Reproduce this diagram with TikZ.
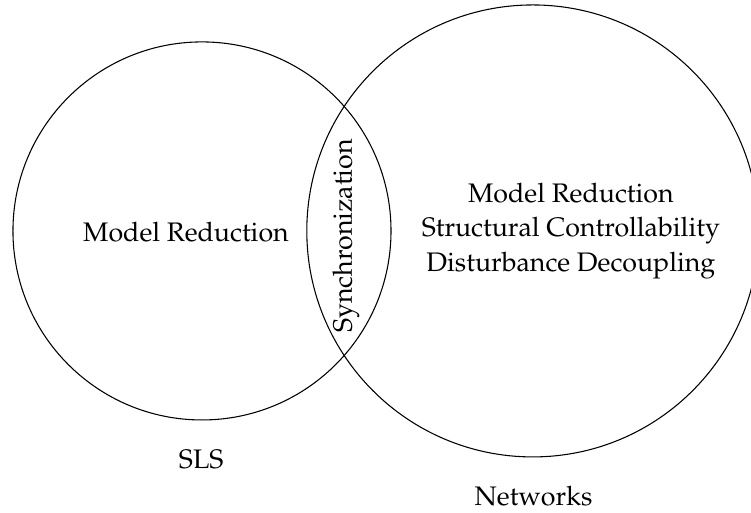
\documentclass[tikz,border=0pt]{standalone}
\usepackage[T1]{fontenc}
\usepackage{mathpazo}
\usepackage{tikz}

\begin{document}
\begin{tikzpicture}
        \useasboundingbox (0,0) rectangle (9.853,6.730);
        \clip (0,0) rectangle (9.853,6.730);
        \draw[black] (2.65,3.70) circle (2.48);
        \draw[black] (6.99,3.70) circle (2.965);
        \node (slstopics) at (2.44,3.685) {Model Reduction};
        \node[rotate=90] (common) at (4.54,3.635) {Synchronization};
        \node[align=center, font={\fontsize{10}{12.9}\selectfont}] (nettopics) at (7.49,3.70) {Model Reduction\\Structural Controllability\\Disturbance Decoupling};
        \node (sls) at (2.64,0.70) {SLS};
        \node (networks) at (7.00,0.22) {Networks};
    \end{tikzpicture}
\end{document}
